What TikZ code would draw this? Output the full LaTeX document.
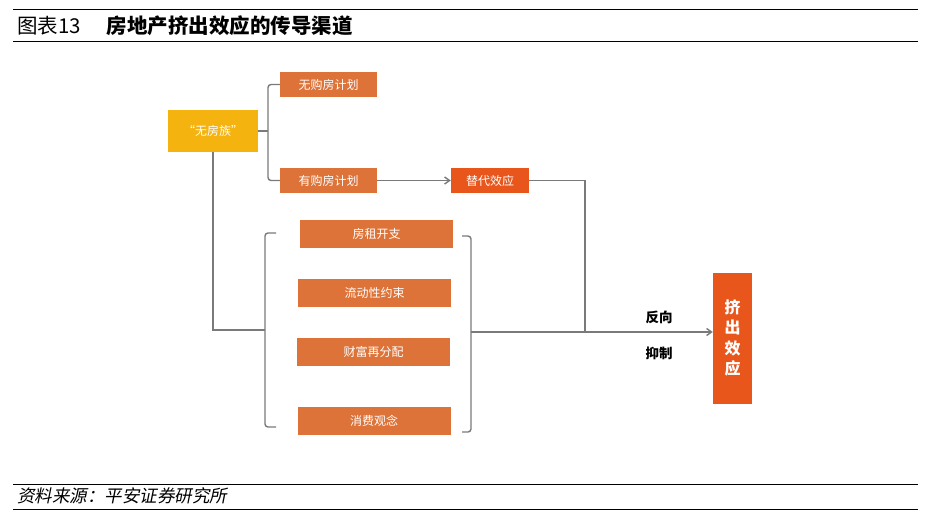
\documentclass[tikz,border=0pt]{standalone}
\usepackage{fontspec}
\setmainfont{Noto Sans CJK SC}
\newfontfamily\cjkit[FakeSlant=0.2]{Noto Sans CJK SC}
\usetikzlibrary{arrows.meta}
\definecolor{yelbox}{HTML}{F4B30E}
\definecolor{orgbox}{HTML}{DD7338}
\definecolor{redbox}{HTML}{E8561C}
\definecolor{conn}{HTML}{7A7A7A}
\tikzset{
  box/.style={draw=none, fill=orgbox, text=white, font=\fontsize{12}{14}\selectfont, inner sep=0pt, align=center},
  link/.style={draw=conn, line width=1.4pt},
  rule/.style={draw=black, line width=0.8pt},
  lab/.style={font=\fontsize{13.5}{15}\selectfont\bfseries, inner sep=0pt},
}
\begin{document}
\begin{tikzpicture}[x=1pt,y=-1pt]
\useasboundingbox (0,0) rectangle (926,520);
% header / footer
\draw[rule] (13,9) -- (918,9);
\draw[rule] (13,41) -- (918,41);
\node[anchor=west, inner sep=0pt, font=\fontsize{20.5}{22}\selectfont] (ttl) at (17,26) {图表13\hspace{26pt}\textbf{房地产挤出效应的传导渠道}};
\draw[rule] (13,484) -- (918,484);
\draw[rule] (13,509) -- (918,509);
\node[anchor=west, inner sep=0pt, font=\fontsize{17.5}{19}\cjkit] (src) at (17,496) {资料来源：平安证券研究所};
% boxes
\node[box, fill=yelbox, minimum width=90pt, minimum height=42pt] (yel) at (213,131) {“无房族”};
\node[box, minimum width=97pt, minimum height=25pt] (wu) at (328.5,84.5) {无购房计划};
\node[box, minimum width=97pt, minimum height=25pt] (you) at (328.5,180.5) {有购房计划};
\node[box, fill=redbox, minimum width=78pt, minimum height=25pt] (td) at (490,180.5) {替代效应};
\node[box, minimum width=153pt, minimum height=28pt] (b1) at (376.5,234) {房租开支};
\node[box, minimum width=153pt, minimum height=28pt] (b2) at (374.5,293) {流动性约束};
\node[box, minimum width=153pt, minimum height=28pt] (b3) at (373.5,352) {财富再分配};
\node[box, minimum width=153pt, minimum height=28pt] (b4) at (374,421) {消费观念};
\node[box, fill=redbox, minimum width=39pt, minimum height=131pt, font=\fontsize{16}{20.5}\selectfont\bfseries] (cx) at (732.5,338) {挤\\出\\效\\应};
% top bracket
\coordinate (tb) at (268,131);
\draw[link] (yel.east) -- (tb);
\draw[link, rounded corners=3pt] (wu.west) -| (tb) |- (you.west);
\draw[link, -{Straight Barb[length=5pt,width=7pt]}] (you.east) -- (td.west);
% left bracket
\coordinate (lb) at (265,330);
\coordinate (lbt) at (276,233);
\coordinate (lbb) at (276,427);
\draw[link, rounded corners=3pt] (lbt) -| (lb) |- (lbb);
\draw[link] (yel.south) |- (lb);
% right bracket
\coordinate (rb) at (471,332);
\coordinate (rbt) at (462,236);
\coordinate (rbb) at (462,432);
\draw[link, rounded corners=3pt] (rbt) -| (rb) |- (rbb);
\coordinate (jn) at (585,332);
\draw[link] (td.east) -| (jn);
\draw[link, -{Straight Barb[length=5pt,width=7pt]}] (rb) -- (cx.west |- rb);
\node[lab] (l1) at (659,317) {反向};
\node[lab] (l2) at (659,353) {抑制};
\end{tikzpicture}
\end{document}
